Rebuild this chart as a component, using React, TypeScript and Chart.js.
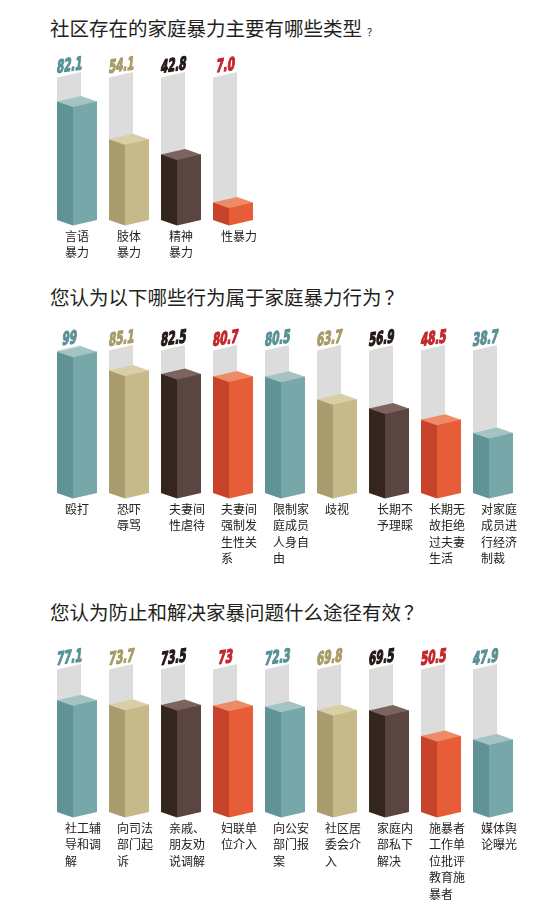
import React, { useRef, useEffect } from 'react';
import { Chart, registerables } from 'chart.js';

Chart.register(...registerables);

// 社区存在的家庭暴力主要有哪些类型
const typeLabels = [['言语', '暴力'], ['肢体', '暴力'], ['精神', '暴力'], ['性暴力']];
const typeValues = [82.1, 54.1, 42.8, 7.0];

// 您认为以下哪些行为属于家庭暴力行为
const actLabels = [
  ['殴打'],
  ['恐吓', '辱骂'],
  ['夫妻间', '性虐待'],
  ['夫妻间', '强制发', '生性关', '系'],
  ['限制家', '庭成员', '人身自', '由'],
  ['歧视'],
  ['长期不', '予理睬'],
  ['长期无', '故拒绝', '过夫妻', '生活'],
  ['对家庭', '成员进', '行经济', '制裁'],
];
const actValues = [99, 85.1, 82.5, 80.7, 80.5, 63.7, 56.9, 48.5, 38.7];

// 您认为防止和解决家暴问题什么途径有效
const wayLabels = [
  ['社工辅', '导和调', '解'],
  ['向司法', '部门起', '诉'],
  ['亲戚、', '朋友劝', '说调解'],
  ['妇联单', '位介入'],
  ['向公安', '部门报', '案'],
  ['社区居', '委会介', '入'],
  ['家庭内', '部私下', '解决'],
  ['施暴者', '工作单', '位批评', '教育施', '暴者'],
  ['媒体舆', '论曝光'],
];
const wayValues = [77.1, 73.7, 73.5, 73, 72.3, 69.8, 69.5, 50.5, 47.9];

const TRACK_MAX = 100;
const FLOOR = -6;
const CEIL = 113;

const PALETTE = [
  { left: '#5f9396', right: '#78a7aa', top: '#a3c3c5', text: '#5a9196' },
  { left: '#a99c6f', right: '#c6ba8b', top: '#d9cfa6', text: '#a89c68' },
  { left: '#34251f', right: '#5a4540', top: '#7d635d', text: '#231815' },
  { left: '#c8432b', right: '#e65d37', top: '#ee8b67', text: '#c4262b' },
];
const TRACK = '#dcdcdc';
const D = 5.5;

const poly = (ctx, pts, color) => {
  ctx.fillStyle = color;
  ctx.beginPath();
  ctx.moveTo(pts[0][0], pts[0][1]);
  for (let i = 1; i < pts.length; i++) ctx.lineTo(pts[i][0], pts[i][1]);
  ctx.closePath();
  ctx.fill();
};

const bar3d = {
  id: 'bar3d',
  beforeDatasetsDraw(chart) {
    const ctx = chart.ctx;
    const tTop = chart.scales.y.getPixelForValue(TRACK_MAX);
    chart.getDatasetMeta(0).data.forEach((bar: any) => {
      const left = bar.x - bar.width / 2;
      const back = left + bar.width * 0.6;
      poly(ctx, [[left, tTop], [back, tTop - D], [back, bar.base], [left, bar.base]], TRACK);
    });
  },
  afterDatasetsDraw(chart, args, opts) {
    const ctx = chart.ctx;
    const tTop = chart.scales.y.getPixelForValue(TRACK_MAX);
    const values = chart.data.datasets[0].data;
    chart.getDatasetMeta(0).data.forEach((bar: any, i: number) => {
      const c = PALETTE[i % 4];
      const w = bar.width;
      const left = bar.x - w / 2;
      const right = left + w;
      const front = left + w * 0.4;
      const back = left + w * 0.6;
      const y = bar.y;
      const base = bar.base;
      poly(ctx, [[left, y], [front, y + D], [front, base + D], [left, base]], c.left);
      poly(ctx, [[front, y + D], [right, y], [right, base], [front, base + D]], c.right);
      poly(ctx, [[left, y], [back, y - D], [right, y], [front, y + D]], c.top);

      // value label, skewed along the top of the grey track
      const v = values[i];
      const txt = opts.decimals ? v.toFixed(opts.decimals) : String(v);
      ctx.save();
      ctx.translate(left + w * 0.3, tTop - 6.5);
      ctx.transform(1, -0.15, -0.12, 1, 0, 0);
      ctx.scale(0.64, 1);
      ctx.font = 'bold 18px "DejaVu Sans Condensed", "DejaVu Sans", sans-serif';
      ctx.textAlign = 'center';
      ctx.textBaseline = 'alphabetic';
      ctx.fillStyle = c.text;
      ctx.strokeStyle = c.text;
      ctx.lineWidth = 1.3;
      ctx.lineJoin = 'round';
      ctx.strokeText(txt, 0, 0);
      ctx.fillText(txt, 0, 0);
      ctx.restore();
    });
  },
};

function BarPanel({ labels, values, decimals, top, axisHeight }) {
  const ref = useRef(null);
  const width = labels.length * 52 + 30;
  const height = 8 + 160 + axisHeight;

  useEffect(() => {
    const chart = new Chart(ref.current, {
      type: 'bar',
      data: {
        labels,
        datasets: [
          {
            data: values,
            base: FLOOR,
            backgroundColor: values.map((_, i) => PALETTE[i % 4].right),
            borderWidth: 0,
            barPercentage: 40 / 52,
            categoryPercentage: 1,
          },
        ],
      },
      options: {
        animation: false,
        responsive: false,
        maintainAspectRatio: false,
        layout: { padding: { top: 8, right: 30, left: 0, bottom: 0 } },
        plugins: {
          legend: { display: false },
          tooltip: { enabled: false },
          bar3d: { decimals },
        },
        scales: {
          x: {
            grid: { display: false, drawTicks: false },
            border: { display: false },
            ticks: {
              align: 'start',
              labelOffset: -12,
              padding: 8,
              autoSkip: false,
              maxRotation: 0,
              minRotation: 0,
              color: '#222',
              font: { family: '"Noto Sans CJK SC", sans-serif', size: 12, lineHeight: 1.375 },
            },
            afterFit: (s) => {
              s.height = axisHeight;
            },
          },
          y: { display: false, min: FLOOR, max: CEIL },
        },
      },
      plugins: [bar3d],
    });
    return () => chart.destroy();
  }, []);

  return (
    <canvas
      ref={ref}
      width={width}
      height={height}
      style={{ position: 'absolute', left: 51, top, width, height }}
    />
  );
}

const titleStyle: React.CSSProperties = {
  position: 'absolute',
  left: 50,
  fontFamily: '"Noto Sans CJK SC", sans-serif',
  fontSize: 19.5,
  lineHeight: '20px',
  color: '#231f20',
  whiteSpace: 'nowrap',
};

export default function App() {
  return (
    <div style={{ position: 'absolute', left: 0, top: 0, width: 550, height: 916, background: '#fff' }}>
      <div style={{ ...titleStyle, top: 18 }}>
        社区存在的家庭暴力主要有哪些类型
        <span style={{ fontSize: 10, marginLeft: 5 }}>？</span>
      </div>
      <BarPanel labels={typeLabels} values={typeValues} decimals={1} top={52} axisHeight={45} />

      <div style={{ ...titleStyle, top: 287 }}>
        您认为以下哪些行为属于家庭暴力行为<span style={{ marginLeft: 3 }}>？</span>
      </div>
      <BarPanel labels={actLabels} values={actValues} decimals={0} top={325} axisHeight={80} />

      <div style={{ ...titleStyle, top: 602 }}>
        您认为防止和解决家暴问题什么途径有效<span style={{ marginLeft: 3 }}>？</span>
      </div>
      <BarPanel labels={wayLabels} values={wayValues} decimals={0} top={644} axisHeight={92} />
    </div>
  );
}
